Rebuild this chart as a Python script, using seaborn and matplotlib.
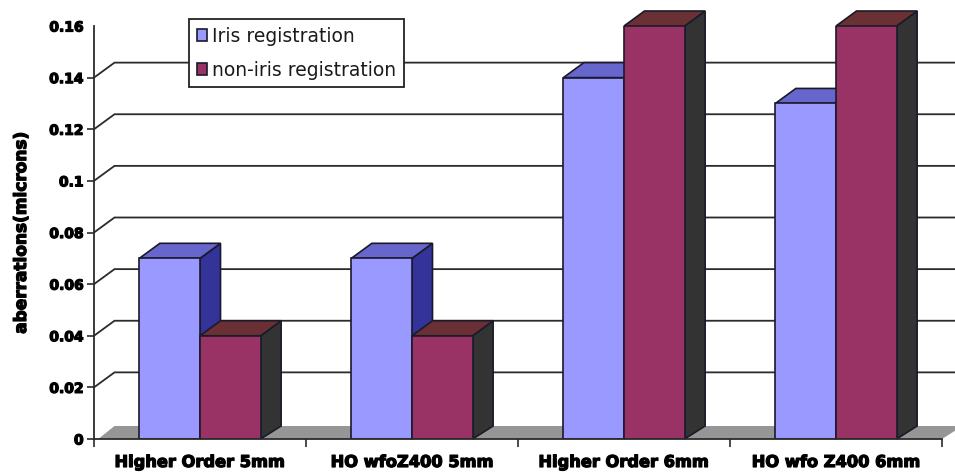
import matplotlib
matplotlib.use("Agg")
import matplotlib.pyplot as plt
import matplotlib.patheffects as pe
from matplotlib.patches import Polygon
import pandas as pd
import seaborn as sns

categories = ["Higher Order 5mm", "HO wfoZ400 5mm", "Higher Order 6mm", "HO wfo Z400 6mm"]
iris_values = [0.07, 0.07, 0.14, 0.13]
non_iris_values = [0.04, 0.04, 0.16, 0.16]
series_names = ["Iris registration", "non-iris registration"]
y_ticks = [0, 0.02, 0.04, 0.06, 0.08, 0.1, 0.12, 0.14, 0.16]
y_tick_labels = ["0", "0.02", "0.04", "0.06", "0.08", "0.1", "0.12", "0.14", "0.16"]

FRONT = ["#9999FF", "#993366"]
TOP = ["#6666CC", "#6B3033"]
SIDE = ["#333399", "#333333"]
EDGE = "#1a1a2a"
W, H = 955, 474

sns.set_theme(style="white")
plt.rcParams["font.family"] = ["DejaVu Sans"]

df = pd.DataFrame({
    "category": categories * 2,
    "value": iris_values + non_iris_values,
    "series": [series_names[0]] * 4 + [series_names[1]] * 4,
})

fig = plt.figure(figsize=(W / 100, H / 100), dpi=100)
ax = fig.add_axes([94 / W, 1 - 439 / H, (942 - 94) / W, (439 - 26) / H])
sns.barplot(data=df, x="category", y="value", hue="series", hue_order=series_names,
            palette=FRONT, width=0.572, gap=0, saturation=1, edgecolor=EDGE,
            linewidth=1.2, ax=ax, zorder=5)
ax.set_xlim(-0.5, 3.5)
ax.set_ylim(0, 0.16)

# Oblique depth of the pseudo-3D box, in data units
dx = 20.5 / 212
dy = 15 / (413 / 0.16)
floor_dy = 13 / (413 / 0.16)

# Back wall gridlines with their slanted run to the axis
for v in y_ticks[1:-1]:
    ax.plot([-0.5, -0.5 + dx, 3.5 + dx], [v, v + dy, v + dy], color="#2b2b2b",
            lw=1.3, clip_on=False, zorder=1, solid_joinstyle="miter")

# Grey floor
ax.add_patch(Polygon([(-0.48, 0), (-0.5 + dx, floor_dy), (3.5 + dx, floor_dy), (3.5, 0)],
                     closed=True, facecolor="#969696", edgecolor="none",
                     clip_on=False, zorder=2))

# Top and side faces, built from each seaborn bar
for s, container in enumerate(ax.containers):
    for bar in container:
        x0, x1 = bar.get_x(), bar.get_x() + bar.get_width()
        h = bar.get_height()
        z = 3 + s * 3
        bar.set_zorder(z + 1)
        ax.add_patch(Polygon([(x1, 0), (x1 + dx, floor_dy), (x1 + dx, h + dy), (x1, h)],
                             closed=True, facecolor=SIDE[s], edgecolor=EDGE, lw=1.2,
                             clip_on=False, zorder=z))
        ax.add_patch(Polygon([(x0, h), (x0 + dx, h + dy), (x1 + dx, h + dy), (x1, h)],
                             closed=True, facecolor=TOP[s], edgecolor=EDGE, lw=1.2,
                             clip_on=False, zorder=z))

heavy = [pe.withStroke(linewidth=0.9, foreground="black")]

for side in ("top", "right"):
    ax.spines[side].set_visible(False)
for side in ("left", "bottom"):
    ax.spines[side].set_color("#2b2b2b")
    ax.spines[side].set_linewidth(1.3)
    ax.spines[side].set_zorder(12)

ax.set_yticks(y_ticks)
ax.set_yticklabels(y_tick_labels, fontsize=10, fontweight="bold", color="black", path_effects=heavy)
ax.tick_params(axis="y", left=True, length=5, width=1.2, color="#2b2b2b", pad=2.5)
ax.yaxis.get_major_ticks()[-1].tick1line.set_visible(False)

ax.set_xticks([0, 1, 2, 3])
ax.set_xticklabels(categories, fontsize=11.7, fontweight="bold", color="black", path_effects=heavy)
ax.set_xticks([-0.5, 0.5, 1.5, 2.5, 3.5], minor=True)
ax.tick_params(axis="x", which="major", length=0, pad=11.5)
ax.tick_params(axis="x", which="minor", bottom=True, length=6, width=1.2, color="#2b2b2b")

ax.set_xlabel("")
ax.set_ylabel("")
fig.text(21 / W, 1 - 233 / H, "aberrations(microns)", rotation=90, ha="center", va="center",
         fontsize=12.2, fontweight="bold", color="black", path_effects=heavy)

handles, labels = ax.get_legend_handles_labels()
ax.legend(handles, labels, loc="upper left", bbox_to_anchor=(189 / W, 1 - 19 / H),
          bbox_transform=fig.transFigure, borderaxespad=0, fontsize=13.5, frameon=True,
          fancybox=False, edgecolor="#222222", framealpha=1, handlelength=0.55,
          handleheight=0.6, handletextpad=0.3, labelspacing=0.8, borderpad=0.4,
          labelcolor="#1a1a1a").get_frame().set_linewidth(1.3)
ax.get_legend().set_zorder(20)

fig.savefig("out.png", dpi=100)
